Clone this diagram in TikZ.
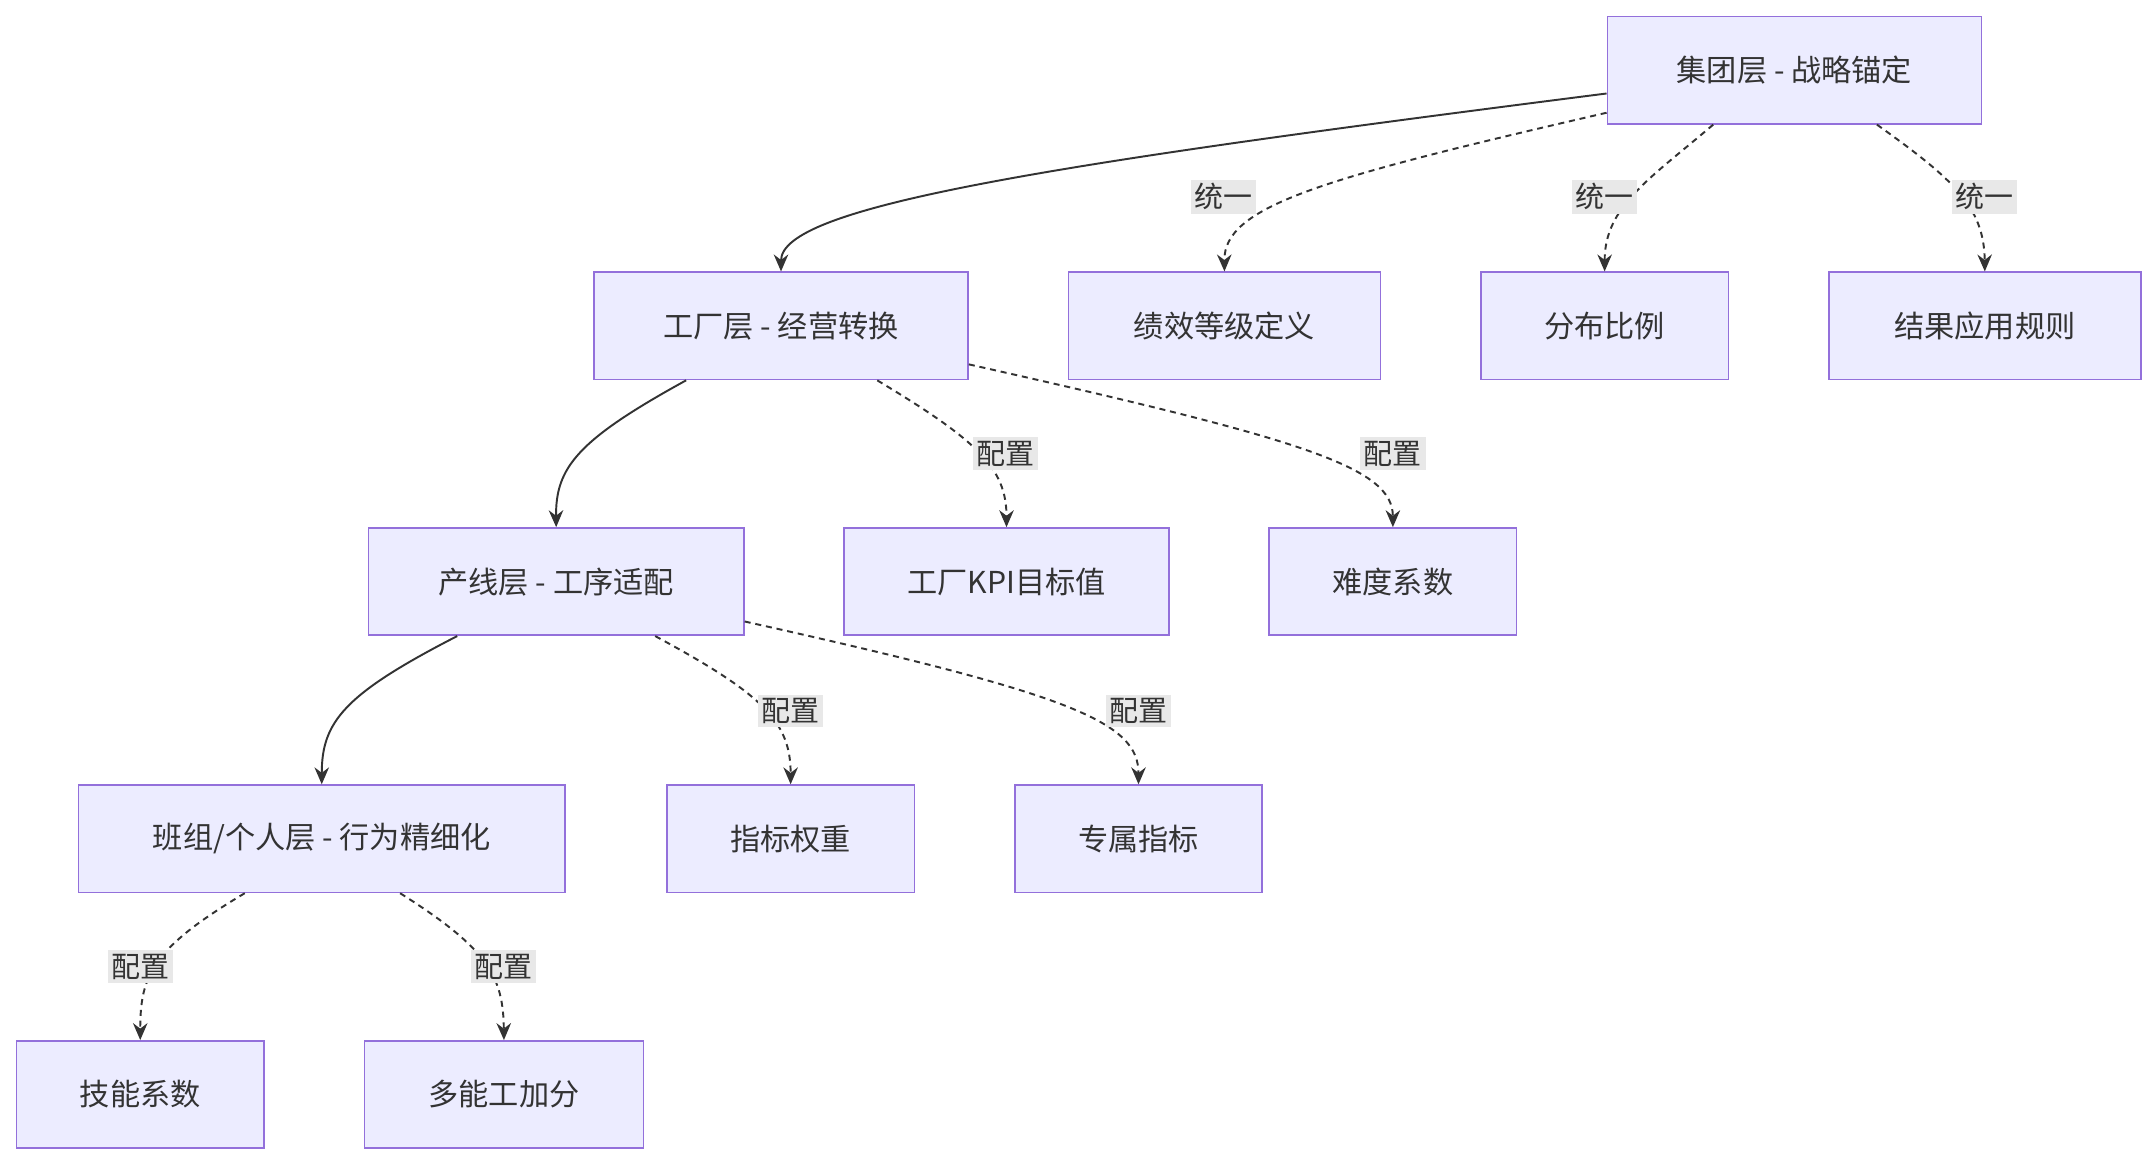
\documentclass[tikz,border=0pt]{standalone}
\usepackage{fontspec}
\setmainfont{Noto Sans CJK SC}
\usetikzlibrary{calc,arrows.meta}
\definecolor{nf}{HTML}{ECECFF}
\definecolor{nd}{HTML}{9370DB}
\definecolor{tx}{HTML}{333333}
\definecolor{lb}{HTML}{E8E8E8}
\begin{document}
\begin{tikzpicture}[x=0.02cm,y=-0.02cm,
  box/.style={draw=nd,fill=nf,line width=0.7pt,minimum height=1.56cm,text=tx,font=\fontsize{12.5}{14}\selectfont,inner sep=0pt},
  lab/.style={fill=lb,text=tx,font=\fontsize{12}{14}\selectfont,inner sep=1.5pt},
  sol/.style={draw=tx,line width=0.8pt,-{Stealth[length=7pt,width=6pt]}},
  das/.style={draw=tx,line width=0.8pt,dash pattern=on 2.5pt off 2pt,-{Stealth[length=7pt,width=6pt]}}]
\useasboundingbox[fill=white] (0,0) rectangle (1568,847);
\node[box,minimum width=5.44cm] (g) at (1305,51) {集团层 - 战略锚定};
\node[box,minimum width=5.44cm] (f) at (568,237) {工厂层 - 经营转换};
\node[box,minimum width=4.54cm] (b1) at (890.5,237) {绩效等级定义};
\node[box,minimum width=3.6cm] (b2) at (1167,237) {分布比例};
\node[box,minimum width=4.54cm] (b3) at (1443.5,237) {结果应用规则};
\node[box,minimum width=5.46cm] (p) at (404.5,423) {产线层 - 工序适配};
\node[box,minimum width=4.72cm] (k) at (732,423) {工厂KPI目标值};
\node[box,minimum width=3.6cm] (d) at (1013,423) {难度系数};
\node[box,minimum width=7.08cm] (t) at (234,610) {班组/个人层 - 行为精细化};
\node[box,minimum width=3.6cm] (w) at (575,610) {指标权重};
\node[box,minimum width=3.6cm] (z) at (828,610) {专属指标};
\node[box,minimum width=3.6cm] (j) at (102,796) {技能系数};
\node[box,minimum width=4.06cm] (m) at (366.5,796) {多能工加分};

\draw[sol] ($(g.west)+(0,17)$) .. controls (760,120) and (568,150) .. (f.north);
\draw[das] ($(g.west)+(0,31)$) .. controls (960,130) and (890,150) .. (b1.north);
\draw[das] ($(g.south)+(-59,0)$) .. controls (1200,130) and (1167,150) .. (b2.north);
\draw[das] ($(g.south)+(60,0)$) .. controls (1420,130) and (1443,150) .. (b3.north);
\node[lab] (l1) at (890,143) {统一};
\node[lab] (l2) at (1167,143) {统一};
\node[lab] (l3) at (1443,143) {统一};

\draw[sol] ($(f.south)+(-69,0)$) .. controls (420,320) and (404,340) .. (p.north);
\draw[das] ($(f.south)+(70,0)$) .. controls (710,320) and (732,340) .. (k.north);
\draw[das] ($(f.east)+(0,28)$) .. controls (950,320) and (1013,340) .. (d.north);
\node[lab] (l4) at (731,330) {配置};
\node[lab] (l5) at (1013,330) {配置};

\draw[sol] ($(p.south)+(-72,0)$) .. controls (250,505) and (234,525) .. (t.north);
\draw[das] ($(p.south)+(72,0)$) .. controls (555,505) and (575,525) .. (w.north);
\draw[das] ($(p.east)+(0,29)$) .. controls (780,505) and (828,525) .. (z.north);
\node[lab] (l6) at (575,517) {配置};
\node[lab] (l7) at (828,517) {配置};

\draw[das] ($(t.south)+(-56,0)$) .. controls (110,690) and (102,710) .. (j.north);
\draw[das] ($(t.south)+(57,0)$) .. controls (355,690) and (366,710) .. (m.north);
\node[lab] (l8) at (102,703) {配置};
\node[lab] (l9) at (366,703) {配置};
\end{tikzpicture}
\end{document}
